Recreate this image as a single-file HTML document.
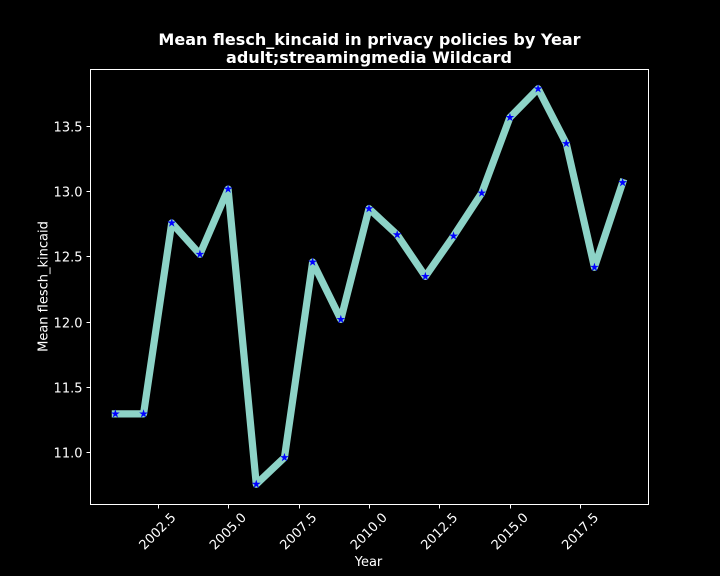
<!DOCTYPE html>
<html>
<head>
<meta charset="utf-8">
<style>
html,body{margin:0;padding:0;background:#000;}
svg{display:block;}
text{font-family:"DejaVu Sans","Liberation Sans",sans-serif;fill:#fff;}
</style>
</head>
<body>
<svg id="chart" width="720" height="576" viewBox="0 0 720 576" xmlns="http://www.w3.org/2000/svg">
  <rect x="0" y="0" width="720" height="576" fill="#000"/>
  <text x="369.5" y="45" font-size="16.05" font-weight="bold" text-anchor="middle">Mean flesch_kincaid in privacy policies by Year</text>
  <text x="369" y="63" font-size="16.05" font-weight="bold" text-anchor="middle">adult;streamingmedia Wildcard</text>
  <text x="368.5" y="566" font-size="13" text-anchor="middle">Year</text>
  <text x="0" y="0" font-size="13" text-anchor="middle" transform="translate(47.5 286.5) rotate(-90)">Mean flesch_kincaid</text>
  <g id="plot"></g>
  <rect x="90.5" y="69.5" width="558" height="435" fill="none" stroke="#fff" stroke-width="1"/>
  <g id="xticks"></g>
  <g id="yticks"></g>
</svg>
<script>
const years = [2001,2002,2003,2004,2005,2006,2007,2008,2009,2010,2011,2012,2013,2014,2015,2016,2017,2018,2019];
const meanValues = [11.295,11.295,12.76,12.52,13.02,10.755,10.96,12.46,12.02,12.87,12.67,12.35,12.66,12.99,13.57,13.79,13.37,12.42,13.07];
const xTickValues = [2002.5,2005.0,2007.5,2010.0,2012.5,2015.0,2017.5];
const yTickValues = [11.0,11.5,12.0,12.5,13.0,13.5];

const NS = 'http://www.w3.org/2000/svg';
const plotBox = {left:90, right:648, top:69, bottom:504};
const xMin = Math.min(...years), xMax = Math.max(...years);
const yMin = Math.min(...meanValues), yMax = Math.max(...meanValues);
const xPad = (xMax - xMin) * 0.05, yPad = (yMax - yMin) * 0.05;

function xScale(v){
  return plotBox.left + (v - (xMin - xPad)) / ((xMax + xPad) - (xMin - xPad)) * (plotBox.right - plotBox.left);
}
function yScale(v){
  return plotBox.bottom - (v - (yMin - yPad)) / ((yMax + yPad) - (yMin - yPad)) * (plotBox.bottom - plotBox.top);
}
function make(tag, attrs){
  const el = document.createElementNS(NS, tag);
  for (const k in attrs) el.setAttribute(k, attrs[k]);
  return el;
}
function starPoints(cx, cy, R){
  const r = R * 0.382, pts = [];
  for (let i = 0; i < 10; i++){
    const a = -Math.PI / 2 + i * Math.PI / 5;
    const d = i % 2 ? r : R;
    pts.push((cx + d * Math.cos(a)).toFixed(2) + ',' + (cy + d * Math.sin(a)).toFixed(2));
  }
  return pts.join(' ');
}

const plot = document.getElementById('plot');
const xAxis = document.getElementById('xticks');
const yAxis = document.getElementById('yticks');

const line = make('polyline', {
  points: years.map((y, i) => xScale(y).toFixed(2) + ',' + yScale(meanValues[i]).toFixed(2)).join(' '),
  fill: 'none', stroke: '#8dd3c7', 'stroke-width': 7.2, 'stroke-linejoin': 'round', 'stroke-linecap': 'square'
});


plot.appendChild(line);

years.forEach((y, i) => {
  const star = make('polygon', {points: starPoints(xScale(y), yScale(meanValues[i]), 3), fill: '#0000ff', stroke: '#0000ff', 'stroke-width': 1, 'stroke-linejoin': 'miter'});
  
  
  plot.appendChild(star);
});

xTickValues.forEach(v => {
  const x = Math.round(xScale(v)) + 0.5;
  const tick = make('line', {x1: x, x2: x, y1: 504.5, y2: 508.5, stroke: '#fff', 'stroke-width': 1});
  
  
  xAxis.appendChild(tick);
  const label = make('text', {'font-size': 13, 'text-anchor': 'middle', transform: 'translate(' + (xScale(v) - 0.5) + ' 531) rotate(-45)', y: 4.7});
  label.textContent = v.toFixed(1);
  
  
  xAxis.appendChild(label);
});

yTickValues.forEach(v => {
  const y = Math.floor(yScale(v)) + 0.5;
  const tick = make('line', {x1: 86.5, x2: 90.5, y1: y, y2: y, stroke: '#fff', 'stroke-width': 1});
  
  
  yAxis.appendChild(tick);
  const label = make('text', {x: 82.5, y: y + 5, 'font-size': 13, 'text-anchor': 'end'});
  label.textContent = v.toFixed(1);
  
  
  yAxis.appendChild(label);
});
</script>
</body>
</html>
